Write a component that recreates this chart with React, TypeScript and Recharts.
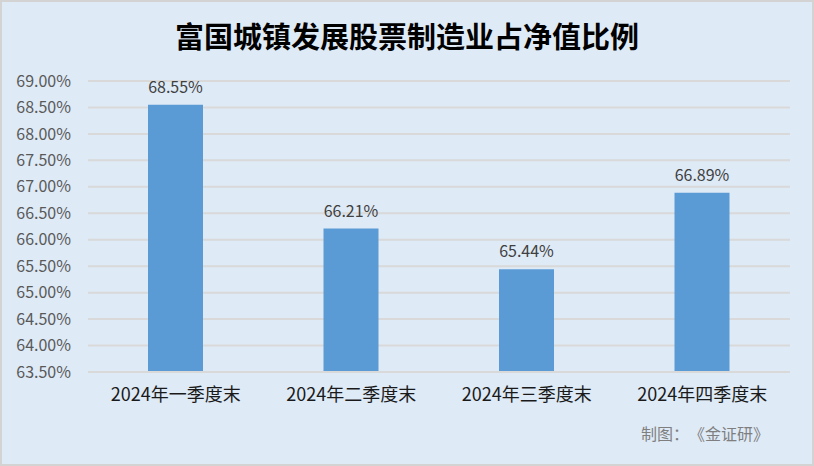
import React from 'react';
import { BarChart, Bar, XAxis, YAxis, CartesianGrid, LabelList } from 'recharts';

const quarters = ['2024年一季度末', '2024年二季度末', '2024年三季度末', '2024年四季度末'];
const shares = [68.55, 66.21, 65.44, 66.89];
const yTicks = [63.5, 64, 64.5, 65, 65.5, 66, 66.5, 67, 67.5, 68, 68.5, 69];
const footer = '制图：《金证研》';

const chartData = quarters.map((q, i) => ({ quarter: q, value: shares[i] }));

const font = '"Noto Sans CJK SC", "Noto Sans", sans-serif';

export default function App() {
  return (
    <div
      style={{
        position: 'relative',
        width: 814,
        height: 466,
        boxSizing: 'border-box',
        background: '#DEEAF6',
        border: '2px solid #D3D3D3',
        fontFamily: font,
      }}
    >
      <style>{'body{margin:0}'}</style>
      <div
        style={{
          position: 'absolute',
          top: 14,
          left: 0,
          width: 810,
          textAlign: 'center',
          fontSize: 29,
          fontWeight: 'bold',
          color: '#000',
          lineHeight: '38px',
        }}
      >
        富国城镇发展股票制造业占净值比例
      </div>
      <div style={{ position: 'absolute', top: -2, left: -2 }}>
        <BarChart
          width={814}
          height={466}
          data={chartData}
          margin={{ top: 81, right: 24, bottom: 0, left: 0 }}
          barSize={55}
        >
          <CartesianGrid vertical={false} stroke="#D9D9D9" strokeWidth={2} />
          <XAxis
            dataKey="quarter"
            height={94}
            tickLine={false}
            axisLine={{ stroke: '#D9D9D9', strokeWidth: 2 }}
            tickMargin={10}
            tick={{ fill: '#1a1a1a', fontSize: 18, fontFamily: font }}
          />
          <YAxis
            width={88}
            domain={[63.5, 69]}
            ticks={yTicks}
            interval={0}
            allowDataOverflow
            axisLine={false}
            tickLine={false}
            tickMargin={11}
            tickFormatter={(v: number) => `${v.toFixed(2)}%`}
            tick={{ fill: '#595959', fontSize: 16, fontFamily: font }}
          />
          <Bar dataKey="value" fill="#5B9BD5" isAnimationActive={false}>
            <LabelList
              dataKey="value"
              position="top"
              offset={12}
              formatter={(v: number) => `${v.toFixed(2)}%`}
              style={{ fill: '#404040', fontSize: 16, fontFamily: font }}
            />
          </Bar>
        </BarChart>
      </div>
      <div
        style={{
          position: 'absolute',
          top: 419,
          left: 639,
          fontSize: 16,
          color: '#7F7F7F',
          lineHeight: '24px',
          whiteSpace: 'nowrap',
        }}
      >
        {footer.split('').map((ch, i) => (
          <span key={i} style={{ display: 'inline-block', width: 16, textAlign: i === 3 ? 'right' : 'center' }}>
            {ch}
          </span>
        ))}
      </div>
    </div>
  );
}
